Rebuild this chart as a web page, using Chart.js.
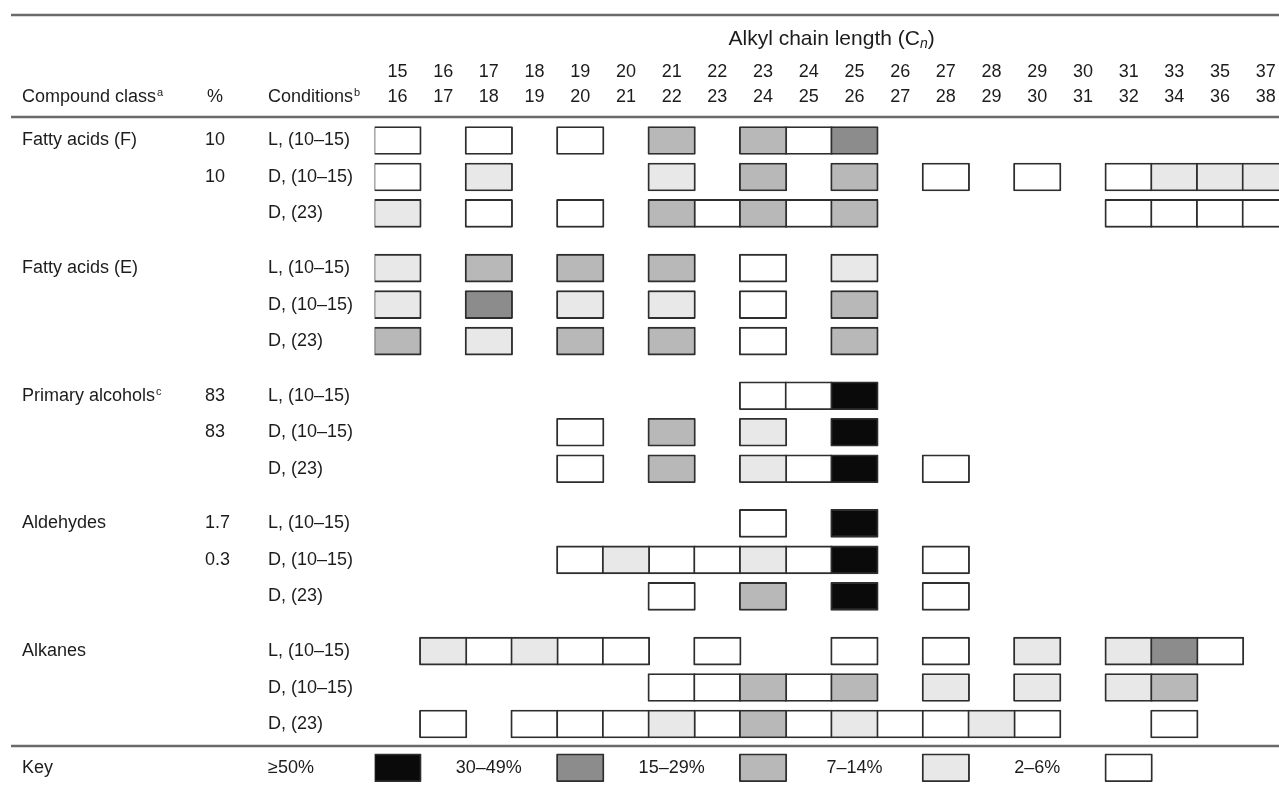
<!DOCTYPE html>
<html>
<head>
<meta charset="utf-8">
<script src="https://cdn.jsdelivr.net/npm/chart.js@4.4.1/dist/chart.umd.min.js"></script>
<style>
  html, body { margin: 0; padding: 0; background: #fff; }
  #wrap { width: 1279px; height: 786px; position: relative; }
</style>
</head>
<body>
<div id="wrap"><canvas id="chart"></canvas></div>
<script>
// alkyl chain length columns (two-line header)
const chainTop = ['15','16','17','18','19','20','21','22','23','24','25','26','27','28','29','30','31','33','35','37'];
const chainBottom = ['16','17','18','19','20','21','22','23','24','25','26','27','28','29','30','31','32','34','36','38'];

const compoundClasses = ['Fatty acids (F)', 'Fatty acids (E)', 'Primary alcohols', 'Aldehydes', 'Alkanes'];
const classNotes = ['', '', 'c', '', ''];
const conditions = ['L, (10–15)', 'D, (10–15)', 'D, (23)'];
const percentValues = [['10', '10', ''], ['', '', ''], ['83', '83', ''], ['1.7', '0.3', ''], ['', '', '']];

// abundance class per cell: 0 none, 1 = 2–6%, 2 = 7–14%, 3 = 15–29%, 4 = 30–49%, 5 = ≥50%
const fattyAcidsF = [
  [1,0,1,0,1,0,3,0,3,1,4,0,0,0,0,0,0,0,0,0],
  [1,0,2,0,0,0,2,0,3,0,3,0,1,0,1,0,1,2,2,2],
  [2,0,1,0,1,0,3,1,3,1,3,0,0,0,0,0,1,1,1,1]
];
const fattyAcidsE = [
  [2,0,3,0,3,0,3,0,1,0,2,0,0,0,0,0,0,0,0,0],
  [2,0,4,0,2,0,2,0,1,0,3,0,0,0,0,0,0,0,0,0],
  [3,0,2,0,3,0,3,0,1,0,3,0,0,0,0,0,0,0,0,0]
];
const primaryAlcohols = [
  [0,0,0,0,0,0,0,0,1,1,5,0,0,0,0,0,0,0,0,0],
  [0,0,0,0,1,0,3,0,2,0,5,0,0,0,0,0,0,0,0,0],
  [0,0,0,0,1,0,3,0,2,1,5,0,1,0,0,0,0,0,0,0]
];
const aldehydes = [
  [0,0,0,0,0,0,0,0,1,0,5,0,0,0,0,0,0,0,0,0],
  [0,0,0,0,1,2,1,1,2,1,5,0,1,0,0,0,0,0,0,0],
  [0,0,0,0,0,0,1,0,3,0,5,0,1,0,0,0,0,0,0,0]
];
const alkanes = [
  [0,2,1,2,1,1,0,1,0,0,1,0,1,0,2,0,2,4,1,0],
  [0,0,0,0,0,0,1,1,3,1,3,0,2,0,2,0,2,3,0,0],
  [0,1,0,1,1,1,2,1,3,1,2,1,1,2,1,0,0,1,0,0]
];

const keyLabels = ['≥50%', '30–49%', '15–29%', '7–14%', '2–6%'];
const keyLevels = [5,0,0,0,4,0,0,0,3,0,0,0,2,0,0,0,1,0,0,0];

const shadeColors = { 1: '#ffffff', 2: '#e8e8e8', 3: '#b8b8b8', 4: '#8c8c8c', 5: '#0a0a0a' };

const FONT = '"Liberation Sans", Arial, Helvetica, sans-serif';
const INK = '#1c1c1c';
const GROUP_STEP = 3.5;
const KEY_ROW = 17.2;

const groups = [fattyAcidsF, fattyAcidsE, primaryAlcohols, aldehydes, alkanes];

// one dataset per abundance class
const datasets = [5, 4, 3, 2, 1].map(level => ({
  label: keyLabels[5 - level],
  data: [],
  backgroundColor: shadeColors[level],
  borderColor: '#2e2e2e',
  borderWidth: 1.9,
  borderSkipped: false,
  borderRadius: 1,
  barThickness: 28,
  grouped: false
}));

function addRow(levels, y) {
  levels.forEach((lv, c) => {
    if (lv) datasets[5 - lv].data.push({ x: [c - 0.52, c + 0.52], y });
  });
}

const rowValues = [];
const rowLabels = [];
groups.forEach((g, gi) => {
  g.forEach((levels, ri) => {
    const y = gi * GROUP_STEP + ri;
    rowValues.push(y);
    rowLabels.push(conditions[ri]);
    addRow(levels, y);
  });
});
addRow(keyLevels, KEY_ROW);
rowValues.push(KEY_ROW);
rowLabels.push(keyLabels[0]);

function textWithNote(ctx, text, note, x, y, size) {
  ctx.font = size + 'px ' + FONT;
  ctx.fillText(text, x, y);
  if (note) {
    const w = ctx.measureText(text).width;
    ctx.font = Math.round(size * 0.6) + 'px ' + FONT;
    ctx.fillText(note, x + w + 1, y - size * 0.22);
  }
}

const tablePlugin = {
  id: 'tableText',
  afterDraw(chart) {
    const { ctx, chartArea } = chart;
    const xs = chart.scales.x, ys = chart.scales.y;
    ctx.save();

    // horizontal rules
    ctx.strokeStyle = '#6a6a6a';
    ctx.lineWidth = 2.5;
    [15, chartArea.top, ys.getPixelForValue(16.6)].forEach(py => {
      ctx.beginPath();
      ctx.moveTo(11, py);
      ctx.lineTo(chart.width, py);
      ctx.stroke();
    });

    ctx.fillStyle = INK;
    ctx.textBaseline = 'middle';
    ctx.textAlign = 'left';

    // spanning title
    const tx = xs.getPixelForValue(9.5), ty = 39;
    ctx.font = '21px ' + FONT;
    const part1 = 'Alkyl chain length (C';
    const w1 = ctx.measureText(part1).width;
    ctx.font = 'italic 14px ' + FONT;
    const wn = ctx.measureText('n').width;
    ctx.font = '21px ' + FONT;
    const w2 = ctx.measureText(')').width;
    let sx = tx - (w1 + wn + w2) / 2;
    ctx.fillText(part1, sx, ty);
    ctx.font = 'italic 14px ' + FONT;
    ctx.fillText('n', sx + w1, ty + 5);
    ctx.font = '21px ' + FONT;
    ctx.fillText(')', sx + w1 + wn, ty);

    // column headers of the left block
    const hy = 97;
    textWithNote(ctx, 'Compound class', 'a', 22, hy, 18);
    ctx.font = '18px ' + FONT;
    ctx.fillText('%', 207, hy);
    textWithNote(ctx, 'Conditions', 'b', 268, hy, 18);

    // class names and percentages
    groups.forEach((g, gi) => {
      const y0 = ys.getPixelForValue(gi * GROUP_STEP);
      textWithNote(ctx, compoundClasses[gi], classNotes[gi], 22, y0, 18);
      ctx.font = '18px ' + FONT;
      percentValues[gi].forEach((p, ri) => {
        if (p) ctx.fillText(p, 205, ys.getPixelForValue(gi * GROUP_STEP + ri));
      });
    });

    // key row
    const ky = ys.getPixelForValue(KEY_ROW);
    ctx.font = '18px ' + FONT;
    ctx.fillText('Key', 22, ky);
    ctx.textAlign = 'center';
    keyLevels.forEach((lv, c) => {
      if (lv && lv < 5) ctx.fillText(keyLabels[5 - lv], xs.getPixelForValue(c - 2), ky);
    });
    ctx.restore();
  }
};

new Chart(document.getElementById('chart'), {
  type: 'bar',
  data: { datasets },
  plugins: [tablePlugin],
  options: {
    indexAxis: 'y',
    responsive: true,
    maintainAspectRatio: false,
    animation: false,
    layout: { padding: { left: 268, right: 0, top: 0, bottom: 0 } },
    plugins: { legend: { display: false }, tooltip: { enabled: false } },
    scales: {
      x: {
        type: 'linear',
        position: 'top',
        offset: false,
        min: -0.5,
        max: 19.29,
        grid: { display: false, drawTicks: false, offset: false },
        border: { display: false },
        afterFit: (scale) => {
          scale.height = 117;
          scale.paddingLeft = 0;
          scale.paddingRight = 0;
        },
        afterBuildTicks: (scale) => { scale.ticks = chainTop.map((_, i) => ({ value: i })); },
        ticks: {
          autoSkip: false,
          maxRotation: 0,
          padding: 7,
          color: INK,
          font: { family: FONT, size: 18, lineHeight: 1.42 },
          callback: (v, i) => [chainTop[i], chainBottom[i]]
        }
      },
      y: {
        type: 'linear',
        position: 'left',
        reverse: true,
        offset: false,
        min: -0.644,
        max: 17.70,
        grid: { display: false, drawTicks: false, offset: false },
        border: { display: false },
        afterFit: (scale) => {
          scale.width = 106.6;
          scale.paddingTop = 0;
          scale.paddingBottom = 0;
        },
        afterBuildTicks: (scale) => { scale.ticks = rowValues.map(v => ({ value: v })); },
        ticks: {
          autoSkip: false,
          crossAlign: 'far',
          color: INK,
          font: { family: FONT, size: 18 },
          callback: (v, i) => rowLabels[i]
        }
      }
    }
  }
});
</script>
</body>
</html>
